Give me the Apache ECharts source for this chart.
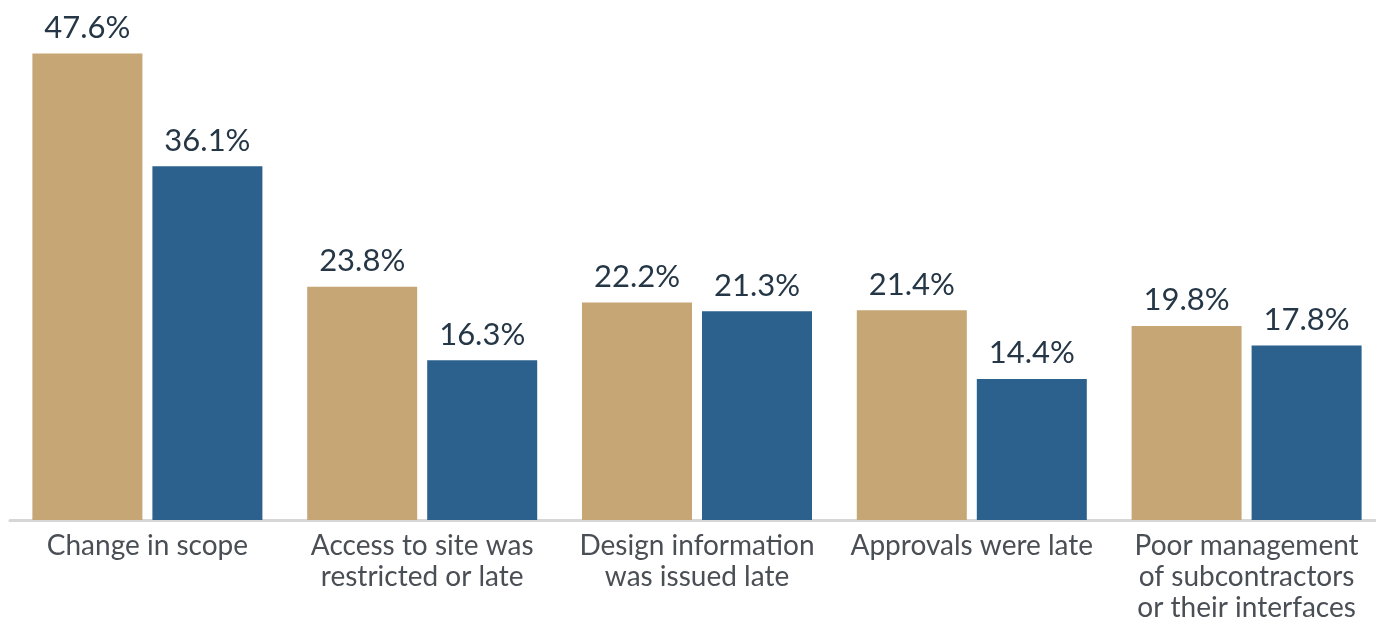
<!DOCTYPE html>
<html>
<head>
<meta charset="utf-8">
<script src="https://cdn.jsdelivr.net/npm/echarts@6/dist/echarts.min.js"></script>
<style>
  html, body { margin: 0; padding: 0; background: #ffffff; }
  #chart { width: 1376px; height: 620px; }
</style>
</head>
<body>
<div id="chart"></div>
<script>
// Causes of delay, share of respondents (%)
const categories = [
  'Change in scope',
  'Access to site was\nrestricted or late',
  'Design information\nwas issued late',
  'Approvals were late',
  'Poor management\nof subcontractors\nor their interfaces'
];
const seriesA = [47.6, 23.8, 22.2, 21.4, 19.8];
const seriesB = [36.1, 16.3, 21.3, 14.4, 17.8];

const chart = echarts.init(document.getElementById('chart'), null, { renderer: 'canvas' });

const valueLabel = {
  show: true,
  position: 'top',
  distance: 10,
  formatter: p => p.value.toFixed(1) + '%',
  color: '#253746',
  fontFamily: 'Lato',
  fontSize: 31
};

chart.setOption({
  animation: false,
  backgroundColor: '#ffffff',
  grid: {
    left: 10, top: 30, bottom: 100, width: 1374,
    containLabel: false,
    outerBoundsMode: 'none'
  },
  xAxis: {
    type: 'category',
    data: categories,
    axisLine: { show: true, lineStyle: { color: '#d6d6d6', width: 3 } },
    axisTick: { show: false },
    axisLabel: {
      interval: 0,
      margin: 10,
      color: '#4a4f55',
      fontFamily: 'Lato',
      fontSize: 28,
      lineHeight: 31,
      align: 'center',
      verticalAlign: 'top'
    }
  },
  yAxis: {
    type: 'value',
    min: 0,
    max: 50,
    show: false,
    splitLine: { show: false }
  },
  series: [
    {
      type: 'bar',
      data: seriesA,
      itemStyle: { color: '#c6a674' },
      barGap: '9.1%',
      barCategoryGap: '16.3%',
      label: valueLabel
    },
    {
      type: 'bar',
      data: seriesB,
      itemStyle: { color: '#2b618c' },
      label: valueLabel
    }
  ]
});
</script>
</body>
</html>
